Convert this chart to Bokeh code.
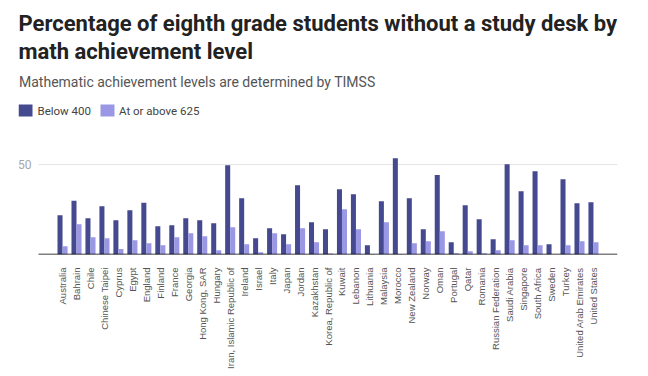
import math
from bokeh.plotting import figure
from bokeh.layouts import column
from bokeh.models import FixedTicker, Range1d, ColumnDataSource
from bokeh.transform import dodge
from bokeh.core.properties import value
from bokeh.embed import file_html
from bokeh.resources import INLINE

countries = ["Australia", "Bahrain", "Chile", "Chinese Taipei", "Cyprus", "Egypt", "England",
             "Finland", "France", "Georgia", "Hong Kong, SAR", "Hungary",
             "Iran, Islamic Republic of", "Ireland", "Israel", "Italy", "Japan", "Jordan",
             "Kazakhstan", "Korea, Republic of", "Kuwait", "Lebanon", "Lithuania", "Malaysia",
             "Morocco", "New Zealand", "Norway", "Oman", "Portugal", "Qatar", "Romania",
             "Russian Federation", "Saudi Arabia", "Singapore", "South Africa", "Sweden",
             "Turkey", "United Arab Emirates", "United States"]
below_400 = [21.8, 29.8, 20.2, 26.8, 19.0, 24.6, 28.7, 15.7, 16.3, 20.2, 19.0, 17.4,
             49.6, 31.3, 9.0, 14.6, 11.3, 38.5, 17.9, 14.0, 36.3, 33.5, 5.2, 29.6,
             53.5, 31.3, 14.0, 44.1, 6.8, 27.4, 19.6, 8.5, 50.2, 35.2, 46.3, 5.7,
             41.8, 28.5, 29.0]
above_625 = [4.6, 16.8, 9.6, 9.0, 3.1, 7.9, 6.3, 5.2, 9.6, 11.8, 10.2, 2.4,
             15.2, 5.7, 1.3, 11.8, 5.7, 14.6, 6.8, 0.5, 25.2, 14.0, 0.3, 17.9,
             0.3, 6.3, 7.4, 12.9, 0.7, 1.8, 0.7, 2.4, 7.9, 5.2, 5.2, 0.0,
             5.2, 7.4, 6.8]
y_ticks = [50]
series_names = ["Below 400", "At or above 625"]
title_lines = ["Percentage of eighth grade students without a study desk by",
               "math achievement level"]
subtitle = "Mathematic achievement levels are determined by TIMSS"

DARK = "#45498f"
LIGHT = "#9a97e4"

W = 648
HEAD_H = 130
MAIN_H = 376 - HEAD_H
FL, FR, FT, FB = 18, 31, 10, 122        # main figure borders (frame left at x=18)
PLOT_LEFT = 38                          # where the bar area starts (canvas px)
PX_PER_CAT = 13.97
PAD = 1.72                              # category padding at each end

# ---------- header (data units == canvas pixels) ----------
hd = figure(width=W, height=HEAD_H, output_backend="svg", toolbar_location=None, title=None,
            x_range=Range1d(FL, W - FR), y_range=Range1d(HEAD_H, 0),
            min_border_left=FL, min_border_right=FR, min_border_top=0, min_border_bottom=0)
hd.axis.visible = False
hd.grid.visible = False
hd.outline_line_color = None
hd.text(x=[18, 18], y=[10.5, 38], text=title_lines, text_font=value("Roboto"),
        text_font_size="22px", text_font_style="bold", text_color="#222222",
        text_baseline="top", text_align="left")
hd.text(x=[18.5], y=[73.5], text=[subtitle], text_font=value("Roboto"),
        text_font_size="14px", text_color="#555555", text_baseline="top", text_align="left")
hd.rect(x=[25, 107], y=[110, 110], width=14, height=12,
        fill_color=[DARK, LIGHT], line_color=None)
hd.text(x=[37, 118.5], y=[110.5, 110.5], text=series_names, text_font=value("Roboto"),
        text_font_size="11.5px", text_color="#444444", text_baseline="middle", text_align="left")

# ---------- main chart ----------
n = len(countries)
idx = list(range(n))
src = ColumnDataSource(dict(x=idx, a=below_400, b=above_625))

x_start = -PAD - (PLOT_LEFT - FL) / PX_PER_CAT
x_end = n - 1 + PAD
fh = MAIN_H - FT - FB
ymax = fh / 1.8

p = figure(width=W, height=MAIN_H, output_backend="svg", toolbar_location=None, title=None,
           x_range=Range1d(x_start, x_end), y_range=Range1d(0, ymax),
           min_border_left=FL, min_border_right=FR, min_border_top=FT, min_border_bottom=FB)
p.outline_line_color = None
p.xgrid.grid_line_color = None
p.ygrid.grid_line_color = None
p.yaxis.visible = False

# horizontal gridline(s) and value labels across the bar area
p.segment(x0=[-PAD] * len(y_ticks), x1=[x_end] * len(y_ticks), y0=y_ticks, y1=y_ticks,
          line_color="#e6e6e6", line_width=1)
p.text(x=[-PAD - 7 / PX_PER_CAT] * len(y_ticks), y=y_ticks, text=[str(t) for t in y_ticks],
       text_font=value("Roboto"), text_font_size="12px", text_color="#a8a8a8",
       text_align="right", text_baseline="middle")

bw = 0.36
p.vbar(x=dodge("x", -bw / 2), top="a", width=bw, bottom=0, source=src,
       fill_color=DARK, line_color=None)
p.vbar(x=dodge("x", bw / 2), top="b", width=bw, bottom=0, source=src,
       fill_color=LIGHT, line_color=None)

# zero baseline
p.segment(x0=[-PAD], x1=[x_end], y0=[0], y1=[0], line_color="#000000", line_width=1.5)

p.xaxis.ticker = FixedTicker(ticks=idx)
p.xaxis.major_label_overrides = {i: c for i, c in enumerate(countries)}
p.xaxis.major_label_orientation = math.pi / 2
p.xaxis.axis_line_color = None
p.xaxis.major_tick_line_color = None
p.xaxis.minor_tick_line_color = None
p.xaxis.major_label_text_color = "#555555"
p.xaxis.major_label_text_font = "Liberation Sans"
p.xaxis.major_label_text_font_size = "9.5px"
p.xaxis.major_label_standoff = 7

layout = column(hd, p, spacing=0)
open("out.html", "w").write(file_html(layout, INLINE))
